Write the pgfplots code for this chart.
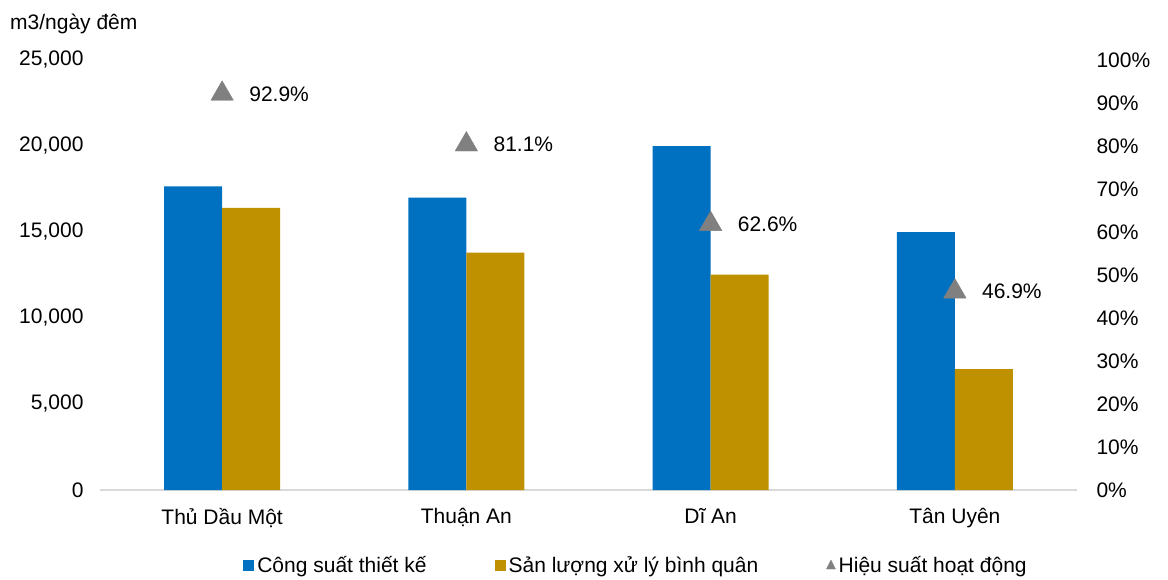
\documentclass[border=0pt]{standalone}
\usepackage{fontspec}
\setmainfont{Liberation Sans}
\usepackage{pgfplots}
\pgfplotsset{compat=1.18}
\definecolor{cblue}{RGB}{0,112,192}
\definecolor{cgold}{RGB}{191,144,0}
\definecolor{cgray}{RGB}{128,128,128}
\definecolor{cline}{RGB}{217,217,217}
\begin{document}
\begin{tikzpicture}[font=\fontsize{21}{25}\selectfont]
\path[use as bounding box] (-100pt,-89pt) rectangle (1068pt,490pt);
\begin{axis}[
  scale only axis, width=977pt, height=430pt,
  xmin=-0.5, xmax=3.5, ymin=0, ymax=25000,
  ybar=0pt, bar width=58pt,
  axis lines*=left,
  x axis line style={cline, line width=1.3pt},
  y axis line style={draw=none},
  major tick length=0pt,
  xtick={0,1,2,3},
  xticklabels={Thủ Dầu Một,Thuận An,Dĩ An,Tân Uyên},
  ytick={0,5000,10000,15000,20000,25000},
  scaled y ticks=false,
  yticklabel={\pgfmathprintnumber[assume math mode=true,1000 sep={,}]{\tick}},
  yticklabel style={xshift=-13pt},
  xticklabel style={yshift=-15pt},
  legend style={at={(axis description cs:0.5,0)}, anchor=center, xshift=48pt, yshift=-75pt,
    draw=none, legend columns=-1,
    /tikz/every even column/.append style={column sep=65pt},
    nodes={inner sep=3pt}},
]
\addplot[fill=cblue, draw=none, legend image code/.code={\fill[cblue] (0pt,-5.5pt) rectangle (11pt,5.5pt);}]
  coordinates {(0,17650) (1,17000) (2,20000) (3,15000)};
\addlegendentry{Công suất thiết kế}
\addplot[fill=cgold, draw=none, legend image code/.code={\fill[cgold] (0pt,-5.5pt) rectangle (11pt,5.5pt);}]
  coordinates {(0,16400) (1,13800) (2,12520) (3,7030)};
\addlegendentry{Sản lượng xử lý bình quân}
\addlegendimage{legend image code/.code={\fill[cgray] (0pt,-4pt) -- (9pt,-4pt) -- (4.5pt,5pt) -- cycle;}}
\addlegendentry{Hiệu suất hoạt động}
\end{axis}
\begin{axis}[
  scale only axis, width=977pt, height=430pt,
  xmin=-0.5, xmax=3.5, ymin=0, ymax=100,
  axis x line=none,
  axis y line*=right,
  y axis line style={draw=none},
  major tick length=0pt,
  ytick={0,10,20,30,40,50,60,70,80,90,100},
  yticklabel={\pgfmathprintnumber[assume math mode=true]{\tick}\%},
  yticklabel style={xshift=16pt},
  clip=false,
]
\addplot[only marks, mark=triangle*, mark size=13pt, color=cgray,
  mark options={yshift=-3.25pt},
  point meta=y,
  nodes near coords={\pgfmathprintnumber[assume math mode=true,fixed,fixed zerofill,precision=1]{\pgfplotspointmeta}\%},
  every node near coord/.append style={anchor=west, xshift=27pt, inner sep=0pt, text=black}]
  coordinates {(0,92.9) (1,81.1) (2,62.6) (3,46.9)};
\end{axis}
\node[anchor=west, inner sep=0pt] at (-90pt,466pt) {m3/ngày đêm};
\end{tikzpicture}
\end{document}
